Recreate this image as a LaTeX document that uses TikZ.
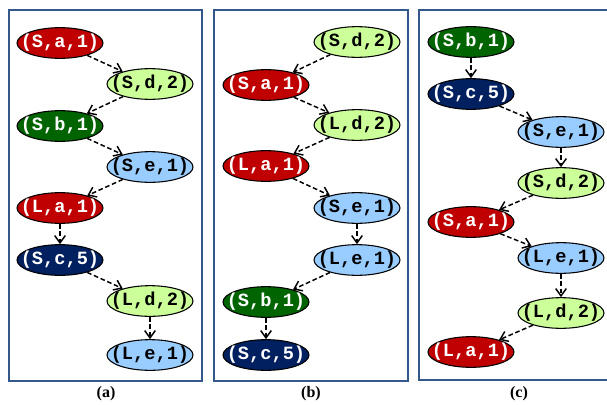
\documentclass[tikz,border=0pt]{standalone}
\usepackage{fontspec}
\setmainfont{Liberation Serif}
\setmonofont{Liberation Mono}
\usetikzlibrary{shapes.geometric,arrows.meta}

\definecolor{opred}{RGB}{192,0,0}
\definecolor{oplime}{RGB}{204,255,153}
\definecolor{opgreen}{RGB}{0,100,0}
\definecolor{opsky}{RGB}{153,204,255}
\definecolor{opnavy}{RGB}{0,32,96}
\definecolor{frame}{RGB}{52,88,140}

\tikzset{>={Straight Barb[length=5.5pt,width=8pt]},
  op/.style={ellipse,draw=black,line width=0.8pt,minimum width=64.5pt,
    minimum height=23pt,inner xsep=-8pt,inner ysep=0pt,
    font=\ttfamily\bfseries\fontsize{14}{14}\selectfont},
  red op/.style={op,fill=opred,text=white},
  lime op/.style={op,fill=oplime},
  green op/.style={op,fill=opgreen,text=white},
  sky op/.style={op,fill=opsky},
  navy op/.style={op,fill=opnavy,text=white},
  dep/.style={->,line width=1.1pt,dash pattern=on 3.5pt off 2pt},
  panel/.style={draw=frame,line width=1.9pt},
  caption/.style={font=\bfseries\fontsize{12}{12}\selectfont}
}

\begin{document}
\begin{tikzpicture}[x=0.75pt,y=-0.75pt]
\useasboundingbox (0,0) rectangle (607,404);
\clip (0,0) rectangle (607,404);

% frames
\draw[panel] (9,10) rectangle (202,381);
\draw[panel] (214,10) rectangle (408,381);
\draw[panel] (419,10) rectangle (616,380);

% (a)
\node[red op]   (a1) at (60,43)   {(S,a,1)};
\node[lime op]  (a2) at (150,84)  {(S,d,2)};
\node[green op] (a3) at (60,126)  {(S,b,1)};
\node[sky op]   (a4) at (150,167) {(S,e,1)};
\node[red op]   (a5) at (60,208)  {(L,a,1)};
\node[navy op]  (a6) at (60,260)  {(S,c,5)};
\node[lime op]  (a7) at (150,301) {(L,d,2)};
\node[sky op]   (a8) at (150,355) {(L,e,1)};

% (b)
\node[lime op]  (b1) at (357,42)  {(S,d,2)};
\node[red op]   (b2) at (266,85)  {(S,a,1)};
\node[lime op]  (b3) at (357,125) {(L,d,2)};
\node[red op]   (b4) at (266,166) {(L,a,1)};
\node[sky op]   (b5) at (357,208) {(S,e,1)};
\node[sky op]   (b6) at (357,260) {(L,e,1)};
\node[green op] (b7) at (266,302) {(S,b,1)};
\node[navy op]  (b8) at (266,355) {(S,c,5)};

% (c)
\node[green op] (c1) at (471,42)  {(S,b,1)};
\node[navy op]  (c2) at (471,94)  {(S,c,5)};
\node[sky op]   (c3) at (561,132) {(S,e,1)};
\node[lime op]  (c4) at (561,183) {(S,d,2)};
\node[red op]   (c5) at (471,222) {(S,a,1)};
\node[sky op]   (c6) at (561,258) {(L,e,1)};
\node[lime op]  (c7) at (561,313) {(L,d,2)};
\node[red op]   (c8) at (471,352) {(L,a,1)};

\foreach \p in {a,b,c}
  \foreach \i [count=\j from 2] in {1,...,7}
    \draw[dep] (\p\i) -- (\p\j);

\node[caption] (capa) at (106,394) {(a)};
\node[caption] (capb) at (311,394) {(b)};
\node[caption] (capc) at (519,394) {(c)};
\end{tikzpicture}
\end{document}
